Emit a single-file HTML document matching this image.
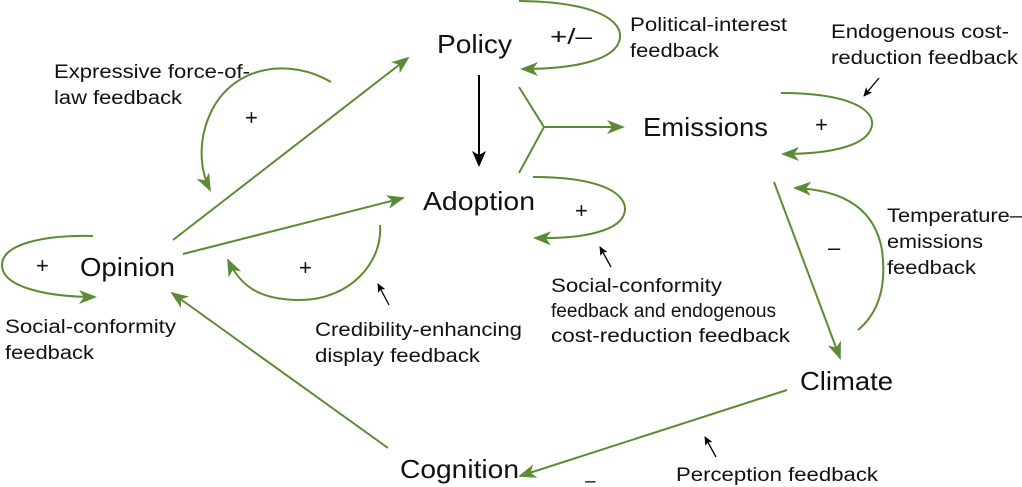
<!DOCTYPE html>
<html><head><meta charset="utf-8"><style>
html,body{margin:0;padding:0;background:#fff;}
svg{display:block;}
text{font-family:"Liberation Sans",sans-serif;fill:#111;}
.n{font-size:26px;}
.s{font-size:19px;}
.p{font-size:22px;}
.g{fill:none;stroke:#5b8c34;stroke-width:2;}
.k{fill:none;stroke:#000;stroke-width:1.3;}
</style></head><body>
<svg width="1022" height="487" viewBox="0 0 1022 487">
<defs>
<marker id="gb" markerWidth="18" markerHeight="14" refX="16" refY="7" orient="auto" markerUnits="userSpaceOnUse"><path d="M0,0 L18,7 L0,14 L5,7 Z" fill="#5b8c34"/></marker>
<marker id="kb" markerWidth="16" markerHeight="14" refX="14" refY="7" orient="auto" markerUnits="userSpaceOnUse"><path d="M0,0 L16,7 L0,14 L4,7 Z" fill="#000"/></marker>
<marker id="ks" markerWidth="9" markerHeight="8" refX="8" refY="4" orient="auto" markerUnits="userSpaceOnUse"><path d="M0,0 L9,4 L0,8 L2,4 Z" fill="#000"/></marker>
</defs>

<g lengthAdjust="spacingAndGlyphs">
<text class="n" x="437" y="53" textLength="75" lengthAdjust="spacingAndGlyphs">Policy</text>
<text class="n" x="423" y="210" textLength="112" lengthAdjust="spacingAndGlyphs">Adoption</text>
<text class="n" x="643" y="136" textLength="125" lengthAdjust="spacingAndGlyphs">Emissions</text>
<text class="n" x="80" y="276" textLength="95" lengthAdjust="spacingAndGlyphs">Opinion</text>
<text class="n" x="800" y="390" textLength="93" lengthAdjust="spacingAndGlyphs">Climate</text>
<text class="n" x="400" y="478" textLength="119" lengthAdjust="spacingAndGlyphs">Cognition</text>

<text class="s" x="54" y="78" textLength="196" lengthAdjust="spacingAndGlyphs">Expressive force-of-</text>
<text class="s" x="54" y="104" textLength="128" lengthAdjust="spacingAndGlyphs">law feedback</text>
<text class="s" x="630" y="31" textLength="157" lengthAdjust="spacingAndGlyphs">Political-interest</text>
<text class="s" x="630" y="57" textLength="89" lengthAdjust="spacingAndGlyphs">feedback</text>
<text class="s" x="831" y="38" textLength="178" lengthAdjust="spacingAndGlyphs">Endogenous cost-</text>
<text class="s" x="831" y="64" textLength="187" lengthAdjust="spacingAndGlyphs">reduction feedback</text>
<text class="s" x="887" y="222" textLength="135" lengthAdjust="spacingAndGlyphs">Temperature–</text>
<text class="s" x="887" y="248" textLength="96" lengthAdjust="spacingAndGlyphs">emissions</text>
<text class="s" x="887" y="274" textLength="89" lengthAdjust="spacingAndGlyphs">feedback</text>
<text class="s" x="551" y="292" textLength="171" lengthAdjust="spacingAndGlyphs">Social-conformity</text>
<text class="s" x="551" y="317" textLength="225" lengthAdjust="spacingAndGlyphs">feedback and endogenous</text>
<text class="s" x="551" y="342" textLength="239" lengthAdjust="spacingAndGlyphs">cost-reduction feedback</text>
<text class="s" x="5" y="333" textLength="171" lengthAdjust="spacingAndGlyphs">Social-conformity</text>
<text class="s" x="5" y="359" textLength="89" lengthAdjust="spacingAndGlyphs">feedback</text>
<text class="s" x="315" y="336" textLength="207" lengthAdjust="spacingAndGlyphs">Credibility-enhancing</text>
<text class="s" x="315" y="362" textLength="165" lengthAdjust="spacingAndGlyphs">display feedback</text>
<text class="s" x="676" y="481" textLength="202" lengthAdjust="spacingAndGlyphs">Perception feedback</text>
</g>

<text class="p" x="245" y="125">+</text>
<text class="p" x="36" y="273">+</text>
<text class="p" x="299" y="275">+</text>
<text class="p" x="815" y="132">+</text>
<text class="p" x="575" y="218">+</text>
<text class="p" x="550" y="44" textLength="42" lengthAdjust="spacingAndGlyphs">+/–</text>
<text class="p" x="828" y="255">–</text>
<text class="p" x="585" y="487" style="font-size:19px">–</text>

<path class="g" d="M173,240 L408,58" marker-end="url(#gb)"/>
<path class="g" d="M183,254 L403,198" marker-end="url(#gb)"/>
<path class="k" style="stroke-width:2" d="M479,75 L479,165" marker-end="url(#kb)"/>
<path class="g" d="M519,87 L544,127 L519,173"/>
<path class="g" d="M544,127 L623,127" marker-end="url(#gb)"/>
<path class="g" d="M774,182 L840,358" marker-end="url(#gb)"/>
<path class="g" d="M787,390 L520,476" marker-end="url(#gb)"/>
<path class="g" d="M388,448 L172,293" marker-end="url(#gb)"/>

<path class="g" d="M331,82 C290,58 235,65 212,110 C197,140 200,170 210,190" marker-end="url(#gb)"/>
<path class="g" d="M519,1 C600,2 622,22 620,38 C617,60 575,69 522,69" marker-end="url(#gb)"/>
<path class="g" d="M781,93 C850,93 874,110 872,125 C869,146 830,154 783,154" marker-end="url(#gb)"/>
<path class="g" d="M533,177 C600,177 626,193 625,210 C623,232 580,239 535,238" marker-end="url(#gb)"/>
<path class="g" d="M858,330 C882,310 886,280 882,250 C875,210 845,190 795,188" marker-end="url(#gb)"/>
<path class="g" d="M380,225 C383,262 350,300 300,300 C258,300 240,285 228,260" marker-end="url(#gb)"/>
<path class="g" d="M93,236 C40,235 2,245 2,265 C2,288 50,297 95,297" marker-end="url(#gb)"/>

<path class="k" d="M879,78 L864,96" marker-end="url(#ks)"/>
<path class="k" d="M611,267 L600,247" marker-end="url(#ks)"/>
<path class="k" d="M389,305 L378,284" marker-end="url(#ks)"/>
<path class="k" d="M716,457 L705,437" marker-end="url(#ks)"/>
</svg>
</body></html>
